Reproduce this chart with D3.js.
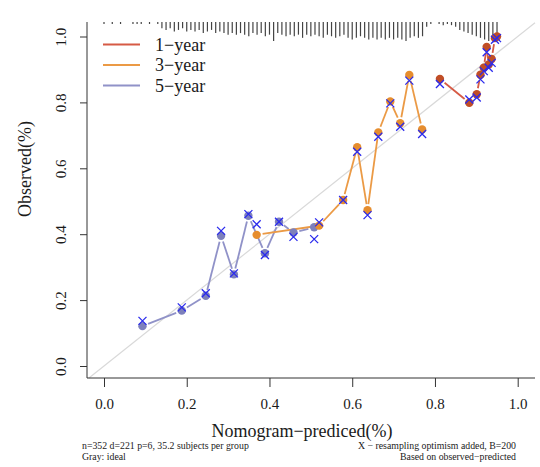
<!DOCTYPE html>
<html>
<head>
<meta charset="utf-8">
<script src="https://cdn.jsdelivr.net/npm/d3@7"></script>
<style>
  html, body { margin: 0; padding: 0; background: #ffffff; }
  svg { display: block; }
  text { font-family: "Liberation Serif", "Times New Roman", serif; fill: #1a1a1a; }
</style>
</head>
<body>
<svg id="chart" width="540" height="467"></svg>
<script>
// ---------------- data ----------------
const seriesNames = ["1\u2212year", "3\u2212year", "5\u2212year"];

// 1-year: predicted, observed (apparent), bias-corrected
const year1Pred = [0.812, 0.883, 0.901, 0.910, 0.918, 0.925, 0.930, 0.937, 0.945, 0.950];
const year1Obs  = [0.871, 0.799, 0.825, 0.884, 0.905, 0.968, 0.915, 0.932, 0.995, 1.000];
const year1Corr = [0.856, 0.809, 0.815, 0.870, 0.895, 0.952, 0.905, 0.920, 0.990, 0.995];

// 3-year
const year3Pred = [0.369, 0.520, 0.578, 0.612, 0.637, 0.663, 0.692, 0.716, 0.738, 0.769];
const year3Obs  = [0.398, 0.426, 0.504, 0.664, 0.473, 0.709, 0.803, 0.737, 0.883, 0.718];
const year3Corr = [0.430, 0.436, 0.504, 0.650, 0.458, 0.696, 0.797, 0.726, 0.866, 0.704];

// 5-year
const year5Pred = [0.093, 0.188, 0.246, 0.283, 0.314, 0.349, 0.389, 0.423, 0.458, 0.508];
const year5Obs  = [0.121, 0.168, 0.213, 0.395, 0.278, 0.456, 0.342, 0.438, 0.405, 0.421];
const year5Corr = [0.137, 0.178, 0.221, 0.410, 0.281, 0.461, 0.337, 0.438, 0.392, 0.385];

// distribution of predicted values (spike histogram at top), bins of 0.01 from 0.00
const rugStart = 0.0, rugStep = 0.01;
const rugCounts = [
  1,0,1,0,1,0,0,1,1,1, 0,1,0,1,4,5,4,6,5,4,
  6,5,6,5,7,6,5,7,6,7, 8,7,8,7,8,9,7,8,7,9,
  8,12,7,8,9,8,9,8,10,8, 9,8,9,10,8,9,10,9,8,10,
  11,10,9,10,11,10,11,10,11,10, 11,10,11,12,10,9,10,9,3,1,
  0,1,2,1,2,3,5,6,7,8, 9,10,11,12,12,11
];

const xTicks = [0, 0.2, 0.4, 0.6, 0.8, 1.0];
const yTicks = [0, 0.2, 0.4, 0.6, 0.8, 1.0];

const footLeft = ["n=352 d=221 p=6, 35.2 subjects per group", "Gray: ideal"];
const footRight = ["X \u2212 resampling optimism added, B=200", "Based on observed\u2212predicted"];
const xLabel = "Nomogram\u2212prediced(%)";
const yLabel = "Observed(%)";

// ---------------- styling ----------------
const lineColors   = ["#d65a45", "#eb9a45", "#9092c8"];
const circleColors = ["#c14e26", "#e68d2e", "#7d80bc"];
const crossColor = "#2a2aee";

// ---------------- layout ----------------
const svg = d3.select("#chart");
const box = { left: 87, right: 535, top: 22, bottom: 378 };
const x = d3.scaleLinear().domain([0, 1]).range([104, 517.7]);
const y = d3.scaleLinear().domain([0, 1]).range([366, 36.5]);

// ideal line (gray)
const lo = Math.max(x.invert(box.left), y.invert(box.bottom));
const hi = Math.min(x.invert(box.right), y.invert(box.top));
svg.append("line")
  .attr("x1", x(lo)).attr("y1", y(lo))
  .attr("x2", x(hi)).attr("y2", y(hi))
  .attr("stroke", "#d9d9d9").attr("stroke-width", 1.2);

// box (L-shaped)
svg.append("path")
  .attr("d", `M${box.left},${box.top}V${box.bottom}H${box.right}`)
  .attr("fill", "none").attr("stroke", "#333").attr("stroke-width", 1);

// axes
const xAxis = svg.append("g")
  .attr("transform", `translate(0,${box.bottom})`)
  .call(d3.axisBottom(x).tickValues(xTicks).tickFormat(d3.format(".1f")).tickSize(9).tickPadding(11));
xAxis.select(".domain").remove();
xAxis.selectAll("line").attr("stroke", "#333");
xAxis.selectAll("text").style("font-family", "Liberation Serif, serif").style("font-size", "15px").attr("fill", "#1a1a1a");

const yAxis = svg.append("g")
  .attr("transform", `translate(${box.left},0)`)
  .call(d3.axisLeft(y).tickValues(yTicks).tickFormat(d3.format(".1f")).tickSize(7).tickPadding(0));
yAxis.select(".domain").remove();
yAxis.selectAll("line").attr("stroke", "#333");
yAxis.selectAll("text")
  .attr("x", null).attr("dy", null)
  .attr("text-anchor", "middle")
  .attr("transform", "translate(-21,0) rotate(-90)")
  .style("font-family", "Liberation Serif, serif").style("font-size", "15px").attr("fill", "#1a1a1a");

// rug spikes
const rugLen = d3.scaleLinear().domain([0, d3.max(rugCounts)]).range([0, 19]);
svg.append("g").selectAll("line")
  .data(rugCounts.map((c, i) => ({ v: rugStart + i * rugStep, c })).filter(d => d.c > 0))
  .join("line")
  .attr("x1", d => x(d.v)).attr("x2", d => x(d.v))
  .attr("y1", box.top).attr("y2", d => box.top + Math.max(2, rugLen(d.c)))
  .attr("stroke", "#444").attr("stroke-width", 1.2);

// series
const series = [
  { pred: year1Pred, obs: year1Obs, corr: year1Corr },
  { pred: year3Pred, obs: year3Obs, corr: year3Corr },
  { pred: year5Pred, obs: year5Obs, corr: year5Corr }
];
const gap = 6;
const drawOrder = [2, 1, 0];
drawOrder.forEach(si => {
  const s = series[si];
  const pts = s.pred.map((p, i) => [x(p), y(s.obs[i])]);
  const g = svg.append("g");
  for (let i = 0; i < pts.length - 1; i++) {
    const [x1, y1] = pts[i], [x2, y2] = pts[i + 1];
    const dx = x2 - x1, dy = y2 - y1, L = Math.hypot(dx, dy);
    if (L <= 2 * gap + 1) continue;
    const ux = dx / L, uy = dy / L;
    g.append("line")
      .attr("x1", x1 + ux * gap).attr("y1", y1 + uy * gap)
      .attr("x2", x2 - ux * gap).attr("y2", y2 - uy * gap)
      .attr("stroke", lineColors[si]).attr("stroke-width", 1.8);
  }
});
drawOrder.forEach(si => {
  const s = series[si];
  svg.append("g").selectAll("circle")
    .data(s.pred.map((p, i) => ({ p, o: s.obs[i] })))
    .join("circle")
    .attr("cx", d => x(d.p)).attr("cy", d => y(d.o)).attr("r", 4.2)
    .attr("fill", circleColors[si]);
});
drawOrder.forEach(si => {
  const s = series[si];
  svg.append("g").selectAll("path")
    .data(s.pred.map((p, i) => ({ p, c: s.corr[i] })))
    .join("path")
    .attr("transform", d => `translate(${x(d.p)},${y(d.c)})`)
    .attr("d", "M-4,-4L4,4M-4,4L4,-4")
    .attr("stroke", crossColor).attr("stroke-width", 1.3).attr("fill", "none");
});

// legend
const leg = svg.append("g");
const legY = [44.5, 65, 85.5];
seriesNames.forEach((name, i) => {
  leg.append("line").attr("x1", 103).attr("x2", 140).attr("y1", legY[i]).attr("y2", legY[i])
    .attr("stroke", lineColors[i]).attr("stroke-width", 2);
  leg.append("text").attr("x", 155).attr("y", legY[i] + 6).style("font-size", "18px").text(name);
});

// axis titles
svg.append("text").attr("x", 302).attr("y", 437).attr("text-anchor", "middle")
  .style("font-size", "18px").text(xLabel);
svg.append("text").attr("transform", "translate(31,169) rotate(-90)").attr("text-anchor", "middle")
  .style("font-size", "18px").text(yLabel);

// footnotes
footLeft.forEach((t, i) => {
  svg.append("text").attr("x", 82).attr("y", 449 + i * 11).style("font-size", "9.8px").text(t);
});
footRight.forEach((t, i) => {
  svg.append("text").attr("x", 516).attr("y", 449 + i * 11).attr("text-anchor", "end").style("font-size", "9.8px").text(t);
});
</script>
</body>
</html>
